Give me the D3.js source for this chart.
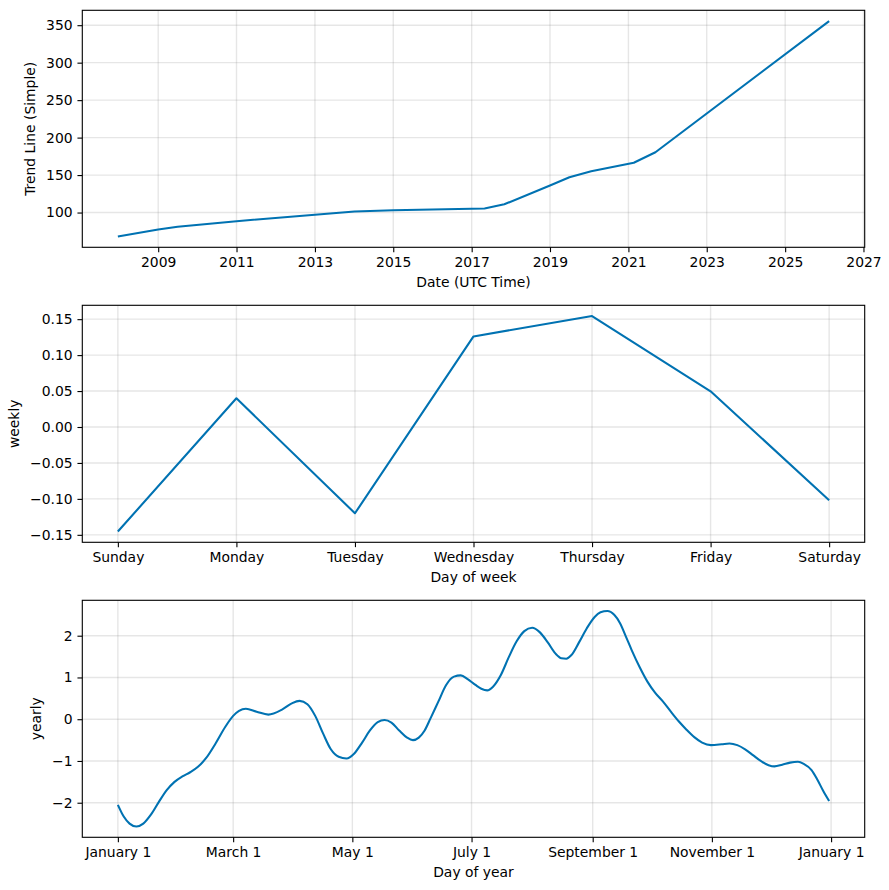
<!DOCTYPE html>
<html>
<head>
<meta charset="utf-8">
<script src="https://cdn.jsdelivr.net/npm/d3@7"></script>
<style>
  html, body { margin: 0; padding: 0; background: #fff; }
  svg { display: block; }
  text { font-family: "DejaVu Sans", sans-serif; fill: #000; }
</style>
</head>
<body>
<svg id="chart" width="889" height="890"></svg>
<script>
// ---------- data ----------
const trendDates = ["2007-12-22","2009-01-01","2009-07-01","2011-01-01","2013-01-01","2014-01-05",
  "2015-01-01","2017-05-01","2017-11-01","2019-01-01","2019-07-01","2020-01-20","2021-02-20",
  "2021-09-10","2026-02-15"];
const trendValues = [68, 77.5, 81, 88.5, 97, 101.5, 103, 105.5, 111, 136, 147, 155, 166.5, 180.5, 355.5];
const trendTickYears = [2009, 2011, 2013, 2015, 2017, 2019, 2021, 2023, 2025, 2027];
const trendYTicks = [100, 150, 200, 250, 300, 350];

const weekDays = ["Sunday","Monday","Tuesday","Wednesday","Thursday","Friday","Saturday"];
const weeklyValues = [-0.1454, 0.0399, -0.120, 0.126, 0.1543, 0.0497, -0.1019];
const weeklyYTicks = [-0.15, -0.10, -0.05, 0.00, 0.05, 0.10, 0.15];

const yearlyDays = [0, 3, 6, 9.5, 13, 17, 21, 25, 29, 33, 37, 41, 45, 50, 55, 59, 62, 65.5, 71, 77,
  84, 89, 93, 97, 101, 105, 109, 113, 117, 121, 125, 129, 133, 136.5, 140, 144, 148, 151, 154, 157,
  160, 164, 168, 172, 175.5, 179, 183, 186, 189, 192, 196, 200, 204, 208, 212, 216, 220, 224, 227,
  229.5, 232, 236, 240, 244, 247, 250.5, 254, 257, 260, 263, 267, 271, 275, 279, 283, 287, 291, 295,
  299, 303.5, 309, 313, 317, 321, 325, 329, 333, 336, 340, 344, 348, 351, 355, 358, 361, 364];
const yearlyValues = [-2.05, -2.33, -2.50, -2.57, -2.50, -2.28, -1.98, -1.70, -1.50, -1.37, -1.27,
  -1.14, -0.94, -0.58, -0.18, 0.08, 0.20, 0.25, 0.18, 0.11, 0.23, 0.38, 0.44, 0.36, 0.08, -0.34,
  -0.72, -0.90, -0.94, -0.82, -0.56, -0.27, -0.07, -0.02, -0.08, -0.27, -0.44, -0.50, -0.44, -0.27,
  0.02, 0.42, 0.82, 1.02, 1.05, 0.96, 0.82, 0.73, 0.69, 0.78, 1.06, 1.48, 1.86, 2.11, 2.19, 2.08,
  1.84, 1.57, 1.46, 1.45, 1.53, 1.84, 2.18, 2.45, 2.56, 2.59, 2.50, 2.30, 1.98, 1.65, 1.25, 0.90,
  0.63, 0.42, 0.18, -0.05, -0.25, -0.43, -0.56, -0.62, -0.60, -0.58, -0.62, -0.72, -0.86, -1.00,
  -1.10, -1.13, -1.09, -1.04, -1.02, -1.07, -1.22, -1.45, -1.72, -1.96];
const yearlyTickDays = [0, 59, 120, 181, 243, 304, 365];
const yearlyTickLabels = ["January 1","March 1","May 1","July 1","September 1","November 1","January 1"];
const yearlyYTicks = [-2, -1, 0, 1, 2];

// ---------- layout ----------
const svg = d3.select("#chart");
const LEFT = 82.3, RIGHT = 864.7, H = 237;
const TOPS = [10.3, 305.3, 600.3];
const FS = 13.9, TICK = 4.86, PAD = 4.86;
const LINE_COLOR = "#0072B2";

function padExtent(ext) {
  const a = +ext[0], b = +ext[1], p = 0.05 * (b - a);
  return [a - p, b + p];
}

function panel(top, xScale, yScale, xTicks, xFormat, yTicks, yFormat, xLabel, yLabel, points, curve) {
  const g = svg.append("g");
  const bottom = top + H;

  // grid
  const grid = g.append("g").attr("stroke", "#808080").attr("stroke-opacity", 0.2).attr("stroke-width", 1.39);
  grid.selectAll("line.gx").data(xTicks).join("line")
    .attr("x1", d => xScale(d)).attr("x2", d => xScale(d)).attr("y1", top).attr("y2", bottom);
  grid.selectAll("line.gy").data(yTicks).join("line")
    .attr("x1", LEFT).attr("x2", RIGHT).attr("y1", d => yScale(d)).attr("y2", d => yScale(d));

  // line
  g.append("path").datum(points)
    .attr("fill", "none").attr("stroke", LINE_COLOR).attr("stroke-width", 2.08)
    .attr("stroke-linejoin", "round")
    .attr("d", d3.line().x(d => xScale(d[0])).y(d => yScale(d[1])).curve(curve || d3.curveLinear));

  // axes
  const gx = g.append("g").attr("transform", `translate(0,${bottom})`)
    .call(d3.axisBottom(xScale).tickValues(xTicks).tickFormat(xFormat).tickSize(TICK).tickPadding(PAD).tickSizeOuter(0));
  const gy = g.append("g").attr("transform", `translate(${LEFT},0)`)
    .call(d3.axisLeft(yScale).tickValues(yTicks).tickFormat(yFormat).tickSize(TICK).tickPadding(PAD).tickSizeOuter(0));
  [gx, gy].forEach(a => {
    a.select(".domain").remove();
    a.selectAll(".tick line").attr("stroke", "#000").attr("stroke-width", 1.11);
    a.selectAll(".tick text").attr("font-size", FS).attr("font-family", "DejaVu Sans").attr("fill", "#000");
  });

  // frame
  g.append("rect").attr("x", LEFT).attr("y", top).attr("width", RIGHT - LEFT).attr("height", H)
    .attr("fill", "none").attr("stroke", "#000").attr("stroke-width", 1.11);

  // labels
  g.append("text").attr("x", (LEFT + RIGHT) / 2).attr("y", bottom + 39.6)
    .attr("text-anchor", "middle").attr("font-size", FS).text(xLabel);
  const bb = gy.node().getBBox();
  const lx = LEFT + bb.x - 10.6;
  g.append("text").attr("transform", `translate(${lx},${top + H / 2}) rotate(-90)`)
    .attr("text-anchor", "middle").attr("font-size", FS).text(yLabel);
}

// ---------- panel 1: trend ----------
{
  const parse = d3.utcParse("%Y-%m-%d");
  const pts = trendDates.map((d, i) => [parse(d), trendValues[i]]);
  const xd = padExtent(d3.extent(pts, d => d[0]));
  const x = d3.scaleUtc().domain([new Date(xd[0]), new Date(xd[1])]).range([LEFT, RIGHT]);
  const y = d3.scaleLinear().domain(padExtent(d3.extent(trendValues))).range([TOPS[0] + H, TOPS[0]]);
  const xt = trendTickYears.map(yr => new Date(Date.UTC(yr, 0, 1)));
  panel(TOPS[0], x, y, xt, d3.utcFormat("%Y"), trendYTicks, d3.format("d"),
        "Date (UTC Time)", "Trend Line (Simple)", pts);
}

// ---------- panel 2: weekly ----------
{
  const idx = weekDays.map((_, i) => i);
  const pts = idx.map(i => [i, weeklyValues[i]]);
  const x = d3.scaleLinear().domain(padExtent([0, weekDays.length - 1])).range([LEFT, RIGHT]);
  const y = d3.scaleLinear().domain(padExtent(d3.extent(weeklyValues))).range([TOPS[1] + H, TOPS[1]]);
  panel(TOPS[1], x, y, idx, i => weekDays[i], weeklyYTicks, d3.format(".2f"),
        "Day of week", "weekly", pts);
}

// ---------- panel 3: yearly ----------
{
  const pts = yearlyDays.map((d, i) => [d, yearlyValues[i]]);
  const x = d3.scaleLinear().domain(padExtent(d3.extent(yearlyDays))).range([LEFT, RIGHT]);
  const y = d3.scaleLinear().domain(padExtent(d3.extent(yearlyValues))).range([TOPS[2] + H, TOPS[2]]);
  panel(TOPS[2], x, y, yearlyTickDays, (d, i) => yearlyTickLabels[i], yearlyYTicks, d3.format("d"),
        "Day of year", "yearly", pts, d3.curveMonotoneX);
}
</script>
</body>
</html>
